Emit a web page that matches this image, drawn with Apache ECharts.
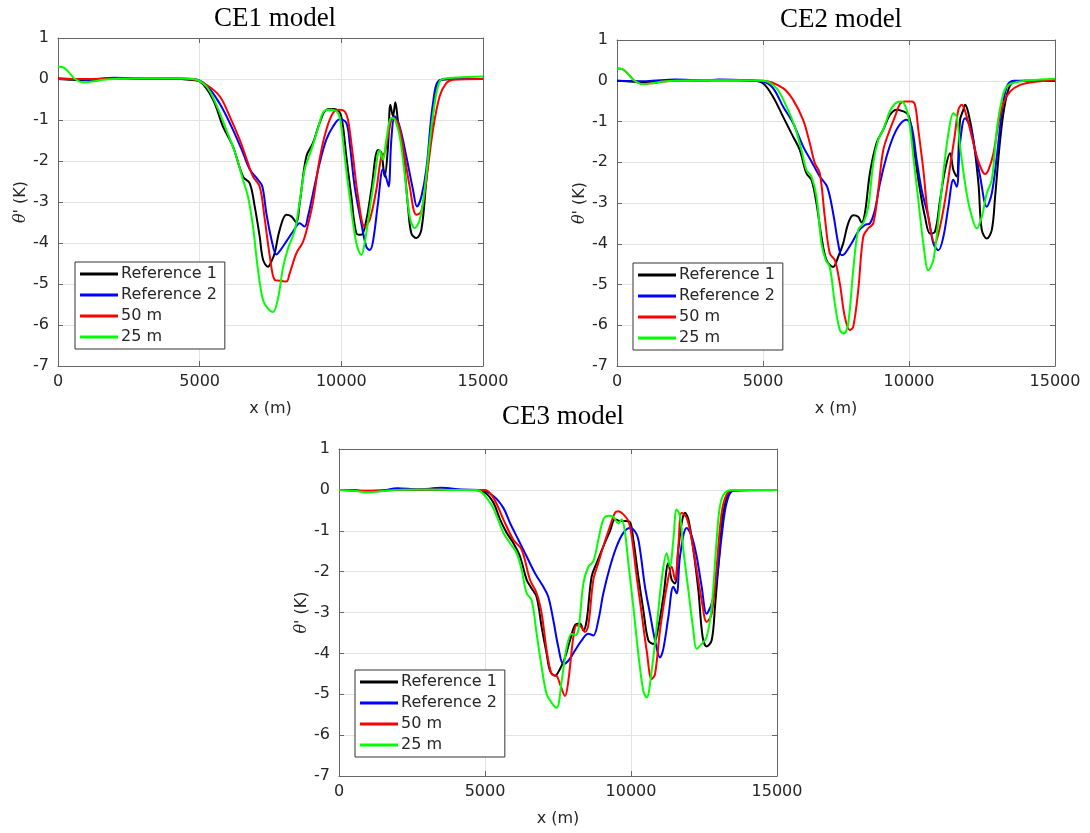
<!DOCTYPE html>
<html>
<head>
<meta charset="utf-8">
<script src="https://cdn.jsdelivr.net/npm/echarts@6/dist/echarts.min.js"></script>
<style>
html,body{margin:0;padding:0;background:#fff;}
#chart{width:1090px;height:833px;}
</style>
</head>
<body>
<div id="chart"></div>
<script>
// ---- data ----
const seriesNames = ['Reference 1', 'Reference 2', '50 m', '25 m'];
const panelTitles = ['CE1 model', 'CE2 model', 'CE3 model'];
const xTicks = [0, 5000, 10000, 15000];
const yTicks = [1, 0, -1, -2, -3, -4, -5, -6, -7];

// CE1 model
const ce1Ref1 = [[0,0],[500,-0.02],[1000,-0.03],[2000,0.02],[3000,0.01],[4000,0.01],[4647,-0.02],[5000,-0.06],[5470,-0.5],[5824,-1.16],[6176,-1.65],[6530,-2.38],[6765,-2.54],[6941,-3.1],[7118,-3.84],[7235,-4.4],[7412,-4.58],[7530,-4.45],[7647,-4.25],[7824,-3.68],[8059,-3.31],[8235,-3.35],[8412,-3.5],[8530,-3.03],[8765,-1.89],[9000,-1.56],[9235,-1.07],[9470,-0.75],[9706,-0.73],[9941,-0.81],[10059,-1.16],[10176,-1.89],[10353,-2.87],[10530,-3.76],[10706,-3.8],[10882,-3.44],[11059,-2.7],[11294,-1.73],[11412,-1.8],[11530,-2.38],[11647,-1.65],[11730,-0.63],[11824,-0.91],[11906,-0.57],[12000,-1.03],[12176,-1.8],[12353,-3.11],[12470,-3.76],[12647,-3.88],[12824,-3.68],[13000,-2.46],[13176,-1.24],[13353,-0.26],[13530,-0.02],[14000,0],[15000,0]];
const ce1Ref2 = [[0,0.02],[500,0],[1000,-0.02],[2000,0.03],[3000,0.01],[4000,0.01],[4765,0],[5235,-0.15],[5706,-0.6],[6176,-1.24],[6530,-1.8],[6765,-2.2],[7059,-2.46],[7212,-2.62],[7353,-3.27],[7530,-3.9],[7706,-4.28],[7824,-4.2],[8059,-3.96],[8294,-3.72],[8530,-3.52],[8706,-3.6],[8824,-3.35],[9000,-2.79],[9235,-2.05],[9470,-1.48],[9706,-1.16],[9941,-0.98],[10176,-1.07],[10294,-1.56],[10470,-2.62],[10706,-3.52],[10882,-4.09],[11000,-4.17],[11118,-3.96],[11294,-3.03],[11470,-2.2],[11588,-2.42],[11670,-2.62],[11765,-1.48],[11882,-0.91],[12059,-1.16],[12294,-1.89],[12529,-2.7],[12670,-3.11],[12824,-2.87],[13000,-2.2],[13235,-0.59],[13470,-0.03],[14000,0],[15000,0]];
const ce1Res50 = [[0,0],[1000,0],[2000,0.01],[3000,0.01],[4000,0.01],[4765,-0.01],[5235,-0.14],[5706,-0.42],[6059,-0.91],[6412,-1.48],[6706,-2.05],[6882,-2.38],[7118,-2.62],[7294,-3.4],[7471,-4.3],[7647,-4.9],[7824,-4.92],[8059,-4.94],[8176,-4.74],[8412,-4.25],[8647,-3.97],[8824,-3.55],[9000,-3.0],[9235,-1.95],[9470,-1.24],[9706,-0.83],[9941,-0.75],[10118,-0.79],[10235,-0.99],[10412,-1.89],[10588,-2.87],[10824,-3.6],[11000,-3.44],[11235,-2.7],[11412,-1.89],[11530,-1.8],[11647,-1.4],[11824,-0.95],[12000,-1.07],[12176,-1.65],[12412,-2.62],[12647,-3.31],[12824,-3.23],[13000,-2.46],[13235,-1.24],[13470,-0.42],[13706,-0.1],[13941,-0.02],[15000,0]];
const ce1Res25 = [[0,0.3],[200,0.28],[400,0.15],[600,0.0],[880,-0.08],[1200,-0.06],[1600,-0.02],[2000,0],[3000,0.02],[4000,0.02],[4765,0],[5235,-0.18],[5588,-0.63],[5941,-1.24],[6294,-1.89],[6530,-2.46],[6706,-2.87],[6882,-3.6],[7059,-4.66],[7235,-5.39],[7412,-5.6],[7588,-5.68],[7765,-5.35],[7941,-4.6],[8118,-4.13],[8353,-3.7],[8529,-3.0],[8706,-2.2],[8850,-1.9],[9000,-1.6],[9176,-1.2],[9412,-0.77],[9647,-0.75],[9882,-0.83],[10000,-1.16],[10118,-1.89],[10294,-2.87],[10529,-4.0],[10706,-4.29],[10824,-4.0],[11000,-3.19],[11176,-2.38],[11353,-1.73],[11470,-1.97],[11588,-1.48],[11765,-0.95],[11882,-0.98],[12059,-1.4],[12235,-2.3],[12412,-3.35],[12588,-3.64],[12765,-3.44],[12941,-2.7],[13118,-1.56],[13294,-0.59],[13470,-0.06],[13706,0.02],[14500,0.05],[15000,0.06]];

// CE2 model
const ce2Ref1 = [[0,0],[1000,-0.03],[2000,0.01],[3000,0.01],[4000,0.01],[4657,0],[5000,-0.06],[5343,-0.39],[5686,-0.88],[6030,-1.37],[6259,-1.7],[6487,-2.27],[6659,-2.43],[6830,-3.0],[7002,-3.83],[7174,-4.4],[7402,-4.57],[7574,-4.32],[7746,-3.99],[7917,-3.5],[8089,-3.3],[8261,-3.34],[8375,-3.48],[8490,-3.25],[8661,-2.27],[8890,-1.53],[9118,-1.2],[9346,-0.84],[9576,-0.71],[9805,-0.75],[9976,-0.84],[10090,-1.2],[10205,-1.86],[10376,-2.68],[10548,-3.34],[10720,-3.75],[10891,-3.7],[11063,-2.93],[11235,-2.19],[11406,-1.78],[11520,-2.19],[11634,-2.35],[11748,-0.96],[11863,-0.71],[11920,-0.59],[12035,-0.8],[12206,-1.45],[12378,-2.52],[12492,-3.66],[12664,-3.87],[12836,-3.66],[12950,-2.84],[13122,-1.45],[13294,-0.55],[13523,-0.06],[14000,0],[15000,0]];
const ce2Ref2 = [[0,0],[1000,-0.01],[2000,0.03],[3000,0.01],[3500,0.03],[4500,0.01],[5000,-0.02],[5343,-0.18],[5686,-0.63],[6030,-1.04],[6373,-1.61],[6659,-1.98],[6945,-2.35],[7196,-2.6],[7402,-3.25],[7574,-3.99],[7689,-4.28],[7803,-4.24],[8032,-3.99],[8261,-3.7],[8490,-3.54],[8661,-3.5],[8833,-3.17],[9004,-2.52],[9232,-1.86],[9461,-1.37],[9690,-1.07],[9919,-0.96],[10090,-1.12],[10262,-1.94],[10433,-2.68],[10662,-3.34],[10834,-3.99],[11006,-4.16],[11177,-3.83],[11349,-3.09],[11520,-2.43],[11634,-2.6],[11748,-1.53],[11920,-0.92],[12092,-1.12],[12263,-1.7],[12435,-2.35],[12664,-3.09],[12836,-2.76],[13007,-1.86],[13178,-0.8],[13350,-0.14],[13580,0],[15000,0]];
const ce2Res50 = [[0,0.3],[200,0.28],[400,0.15],[600,0.0],[870,-0.08],[1200,-0.06],[1600,-0.02],[2000,0],[3000,0.01],[4000,0.01],[5000,0],[5686,-0.18],[6030,-0.47],[6373,-0.96],[6602,-1.53],[6773,-2.02],[6945,-2.27],[7116,-3.34],[7288,-4.24],[7460,-4.4],[7632,-4.98],[7803,-5.8],[7974,-6.12],[8089,-6.04],[8261,-5.14],[8432,-3.83],[8604,-3.62],[8776,-3.5],[8947,-2.68],[9118,-1.7],[9346,-1.2],[9519,-0.88],[9690,-0.57],[9862,-0.51],[10090,-0.51],[10205,-0.59],[10319,-1.2],[10491,-2.19],[10662,-3.34],[10891,-3.99],[11063,-3.58],[11235,-2.93],[11406,-2.11],[11577,-1.29],[11691,-0.71],[11805,-0.59],[11977,-0.88],[12149,-1.37],[12320,-1.86],[12492,-2.19],[12607,-2.29],[12721,-2.19],[12893,-1.78],[13065,-1.04],[13236,-0.55],[13465,-0.26],[13809,-0.1],[14267,-0.03],[15000,0.02]];
const ce2Res25 = [[0,0.3],[200,0.28],[400,0.15],[600,0.0],[870,-0.08],[1200,-0.06],[1600,-0.02],[2000,0],[3000,0.01],[4000,0.01],[5000,0],[5458,-0.18],[5801,-0.63],[6087,-1.12],[6316,-1.7],[6487,-2.19],[6659,-2.35],[6830,-2.84],[7002,-3.99],[7150,-4.4],[7288,-4.57],[7460,-5.47],[7632,-6.12],[7769,-6.2],[7917,-5.96],[8089,-4.65],[8261,-3.66],[8432,-3.5],[8604,-3.09],[8776,-2.02],[8947,-1.45],[9118,-1.2],[9346,-0.75],[9576,-0.53],[9747,-0.51],[9919,-0.71],[10034,-1.12],[10148,-1.86],[10319,-2.93],[10491,-3.99],[10662,-4.65],[10834,-4.4],[11006,-3.42],[11177,-2.27],[11349,-1.29],[11520,-0.8],[11634,-0.88],[11748,-1.61],[11920,-2.52],[12092,-3.17],[12320,-3.62],[12492,-3.34],[12664,-2.76],[12836,-2.43],[13007,-1.2],[13178,-0.47],[13350,-0.14],[13693,-0.03],[14500,0.03],[15000,0.05]];

// CE3 model
const ce3Ref1 = [[0,0],[1000,-0.02],[2000,0],[3000,0.01],[4000,0],[4600,0],[5000,-0.07],[5285,-0.31],[5514,-0.72],[5742,-1.05],[5970,-1.3],[6199,-1.63],[6427,-2.2],[6598,-2.41],[6769,-2.62],[6941,-3.36],[7112,-4.01],[7226,-4.42],[7397,-4.55],[7568,-4.38],[7740,-4.1],[7911,-3.68],[8082,-3.31],[8253,-3.27],[8368,-3.44],[8482,-3.19],[8653,-2.12],[8824,-1.79],[9053,-1.38],[9281,-1.01],[9452,-0.72],[9623,-0.76],[9795,-0.76],[9966,-0.79],[10080,-1.22],[10251,-2.12],[10422,-2.94],[10593,-3.68],[10765,-3.77],[10936,-3.36],[11107,-2.62],[11279,-1.79],[11393,-2.2],[11507,-2.29],[11621,-1.46],[11735,-0.81],[11850,-0.56],[11964,-0.72],[12135,-1.46],[12306,-2.45],[12454,-3.6],[12591,-3.83],[12763,-3.68],[12877,-2.86],[13048,-1.38],[13162,-0.56],[13334,-0.11],[13600,0],[15000,0]];
const ce3Ref2 = [[0,0],[500,-0.01],[1000,-0.05],[1500,-0.02],[2000,0.04],[2700,0.01],[3500,0.05],[4200,0.01],[4829,0],[5285,-0.15],[5628,-0.44],[5856,-0.81],[6142,-1.22],[6427,-1.63],[6712,-2.04],[6998,-2.37],[7169,-2.62],[7340,-3.19],[7512,-3.85],[7683,-4.26],[7854,-4.18],[8082,-3.93],[8311,-3.68],[8539,-3.52],[8710,-3.56],[8881,-3.19],[9053,-2.53],[9281,-1.88],[9509,-1.38],[9738,-1.05],[9966,-0.93],[10194,-1.09],[10308,-1.46],[10479,-2.37],[10651,-3.03],[10822,-3.68],[10993,-4.1],[11107,-3.89],[11279,-3.11],[11450,-2.37],[11564,-2.53],[11678,-1.63],[11906,-0.93],[12078,-1.13],[12249,-1.63],[12420,-2.37],[12591,-3.03],[12763,-2.78],[12934,-2.2],[13105,-1.13],[13277,-0.31],[13505,-0.02],[15000,0]];
const ce3Res50 = [[0,0],[1000,-0.03],[2000,0],[3000,0.01],[4000,0],[5000,0],[5285,-0.19],[5628,-0.72],[5970,-1.22],[6256,-1.46],[6541,-2.2],[6769,-2.53],[6941,-3.03],[7112,-3.93],[7283,-4.51],[7454,-4.55],[7568,-4.75],[7740,-5.04],[7854,-4.67],[8025,-3.6],[8139,-3.31],[8311,-3.36],[8425,-3.48],[8539,-3.31],[8710,-2.2],[8881,-1.79],[9053,-1.38],[9281,-0.89],[9452,-0.56],[9566,-0.52],[9738,-0.6],[9909,-0.76],[10023,-1.13],[10194,-2.12],[10365,-3.03],[10536,-3.93],[10708,-4.63],[10822,-4.51],[10993,-3.44],[11222,-2.37],[11393,-1.88],[11507,-2.2],[11621,-1.38],[11735,-0.56],[11906,-0.68],[12078,-1.22],[12249,-1.96],[12420,-2.7],[12591,-3.23],[12763,-3.03],[12934,-1.88],[13105,-0.56],[13277,-0.11],[13500,0],[15000,0]];
const ce3Res25 = [[0,0],[500,-0.02],[1000,-0.06],[1500,-0.03],[2000,0],[3000,0.01],[4000,0],[4715,0],[5171,-0.31],[5400,-0.64],[5628,-1.05],[5856,-1.3],[6085,-1.55],[6256,-1.96],[6427,-2.53],[6598,-2.7],[6769,-3.52],[6941,-4.34],[7112,-5.0],[7283,-5.21],[7454,-5.33],[7626,-4.67],[7797,-3.85],[7968,-3.52],[8082,-3.56],[8196,-3.44],[8368,-2.29],[8539,-1.88],[8710,-1.75],[8881,-1.22],[9053,-0.72],[9224,-0.63],[9395,-0.66],[9566,-0.82],[9680,-0.72],[9795,-1.05],[9909,-1.79],[10080,-2.86],[10251,-4.01],[10422,-4.92],[10536,-5.08],[10708,-4.42],[10879,-3.36],[11050,-2.2],[11222,-1.55],[11336,-1.88],[11450,-1.22],[11564,-0.48],[11678,-0.64],[11792,-1.46],[11964,-2.45],[12135,-3.44],[12249,-3.89],[12420,-3.77],[12591,-3.6],[12763,-2.86],[12934,-1.22],[13048,-0.39],[13219,-0.07],[13500,0],[15000,0]];

const panelData = [
  [ce1Ref1, ce1Ref2, ce1Res50, ce1Res25],
  [ce2Ref1, ce2Ref2, ce2Res50, ce2Res25],
  [ce3Ref1, ce3Ref2, ce3Res50, ce3Res25]
];

// ---- layout / style ----
const colors = ['#000000', '#0000ff', '#ff0000', '#00ff00'];
const grids = [
  {left: 58, top: 38, width: 425, height: 328},
  {left: 617, top: 40, width: 438, height: 326},
  {left: 339, top: 449, width: 438, height: 327}
];
const titlePos = [
  {x: 270, y: 14},
  {x: 836, y: 15},
  {x: 558, y: 412}
];
const legendPos = [
  {left: 75, top: 262},
  {left: 633, top: 263},
  {left: 355, top: 670}
];

const axisColor = '#666666';
const textColor = '#262626';
const tickFont = 'DejaVu Sans';
const xMin = xTicks[0], xMax = xTicks[xTicks.length - 1];
const xStep = xTicks[1] - xTicks[0];
const yMin = Math.min.apply(null, yTicks), yMax = Math.max.apply(null, yTicks);

const xAxes = [], yAxes = [], series = [], legends = [], titles = [];
grids.forEach((g, i) => {
  xAxes.push({
    type: 'value', gridIndex: i, position: 'bottom', min: xMin, max: xMax, interval: xStep,
    axisLine: {show: true, onZero: false, lineStyle: {color: axisColor, width: 1}},
    axisTick: {show: true, inside: true, length: 5, lineStyle: {color: axisColor}},
    axisLabel: {color: textColor, fontFamily: tickFont, fontSize: 16, margin: 8,
      formatter: v => String(v)},
    splitLine: {show: true, lineStyle: {color: '#e3e3e3', width: 1}},
    name: 'x (m)', nameLocation: 'middle', nameGap: 35,
    nameTextStyle: {color: textColor, fontFamily: tickFont, fontSize: 16}
  });
  xAxes.push({
    type: 'value', gridIndex: i, position: 'top', min: xMin, max: xMax, interval: xStep,
    axisLine: {show: true, onZero: false, lineStyle: {color: axisColor, width: 1}},
    axisTick: {show: true, inside: true, length: 5, lineStyle: {color: axisColor}},
    axisLabel: {show: false}, splitLine: {show: false}
  });
  yAxes.push({
    type: 'value', gridIndex: i, position: 'left', min: yMin, max: yMax, interval: 1,
    axisLine: {show: true, onZero: false, lineStyle: {color: axisColor, width: 1}},
    axisTick: {show: true, inside: true, length: 5, lineStyle: {color: axisColor}},
    axisLabel: {color: textColor, fontFamily: tickFont, fontSize: 16, margin: 9,
      formatter: v => String(v)},
    splitLine: {show: true, lineStyle: {color: '#e3e3e3', width: 1}},
    name: "{it|θ}' (K)", nameLocation: 'middle', nameGap: 27, nameRotate: 90,
    nameTextStyle: {color: textColor, fontFamily: tickFont, fontSize: 16,
      rich: {it: {fontStyle: 'italic', fontFamily: 'DejaVu Serif', fontSize: 16, color: textColor}}}
  });
  yAxes.push({
    type: 'value', gridIndex: i, position: 'right', min: yMin, max: yMax, interval: 1,
    axisLine: {show: true, onZero: false, lineStyle: {color: axisColor, width: 1}},
    axisTick: {show: true, inside: true, length: 5, lineStyle: {color: axisColor}},
    axisLabel: {show: false}, splitLine: {show: false}
  });
  panelData[i].forEach((d, k) => {
    series.push({
      type: 'line', name: seriesNames[k], xAxisIndex: i * 2, yAxisIndex: i * 2,
      data: d, showSymbol: false, symbol: 'none', smooth: 0.35,
      lineStyle: {color: colors[k], width: 2}, itemStyle: {color: colors[k]},
      z: 3 + k, animation: false
    });
  });
  legends.push({
    orient: 'vertical', left: legendPos[i].left, top: legendPos[i].top,
    data: seriesNames.slice(), icon: 'rect', itemWidth: 38, itemHeight: 3, itemGap: 3,
    padding: [3, 8, 3, 5], backgroundColor: '#ffffff', borderColor: '#333333', borderWidth: 1,
    borderRadius: 0, selectedMode: false,
    textStyle: {color: textColor, fontFamily: tickFont, fontSize: 16, lineHeight: 18, padding: [0, 0, 0, -2]},
    z: 10
  });
  titles.push({
    text: panelTitles[i], left: titlePos[i].x, top: titlePos[i].y,
    textAlign: 'center', textVerticalAlign: 'middle',
    textStyle: {fontFamily: 'Liberation Serif', fontSize: 27, fontWeight: 'normal', color: '#000'}
  });
});

const chart = echarts.init(document.getElementById('chart'), null, {renderer: 'canvas'});
chart.setOption({
  animation: false,
  backgroundColor: '#ffffff',
  title: titles,
  grid: grids,
  xAxis: xAxes,
  yAxis: yAxes,
  legend: legends,
  series: series
});
</script>
</body>
</html>
